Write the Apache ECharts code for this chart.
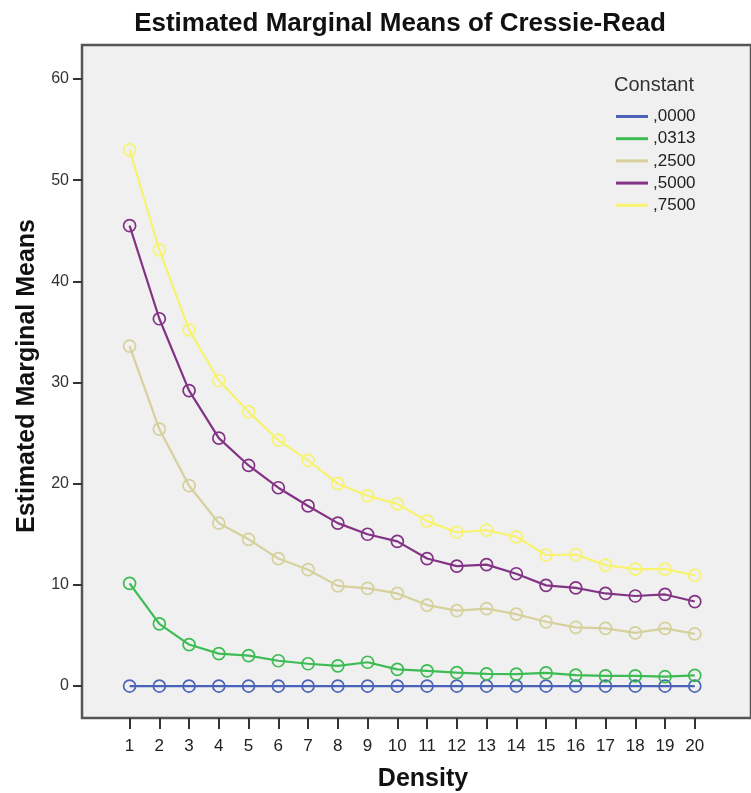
<!DOCTYPE html>
<html>
<head>
<meta charset="utf-8">
<script src="https://cdn.jsdelivr.net/npm/echarts@6/dist/echarts.min.js"></script>
<style>
html,body{margin:0;padding:0;background:#fff;}
#chart{width:751px;height:793px;}
</style>
</head>
<body>
<div id="chart"></div>
<script>
const density = [1,2,3,4,5,6,7,8,9,10,11,12,13,14,15,16,17,18,19,20];
const yTicks = [0,10,20,30,40,50,60];
const seriesNames = [',0000', ',0313', ',2500', ',5000', ',7500'];
const c0000 = [0,0,0,0,0,0,0,0,0,0,0,0,0,0,0,0,0,0,0,0];
const c0313 = [10.15,6.15,4.1,3.2,3.0,2.5,2.2,2.0,2.35,1.65,1.5,1.32,1.2,1.18,1.3,1.08,1.0,1.0,0.92,1.05];
const c2500 = [33.6,25.4,19.8,16.1,14.5,12.6,11.5,9.9,9.65,9.15,8.0,7.45,7.65,7.1,6.35,5.8,5.7,5.25,5.7,5.15];
const c5000 = [45.5,36.3,29.2,24.5,21.8,19.6,17.8,16.1,15.0,14.3,12.6,11.85,12.0,11.1,9.95,9.7,9.15,8.9,9.05,8.35];
const c7500 = [53.0,43.1,35.2,30.2,27.1,24.3,22.3,20.0,18.8,18.0,16.3,15.2,15.4,14.75,12.95,13.0,11.95,11.55,11.55,10.95];
const seriesValues = [c0000, c0313, c2500, c5000, c7500];
const colors = ['#4a63b8', '#3cbc52', '#d6d19c', '#833385', '#f7f36e'];

const chart = echarts.init(document.getElementById('chart'), null, {renderer: 'canvas'});
const font = 'Liberation Sans, Arial, sans-serif';

const series = seriesNames.map((name, i) => ({
  name: name,
  type: 'line',
  data: density.map((d, j) => [d, seriesValues[i][j]]),
  symbol: 'circle',
  symbolSize: 12,
  z: 2 + i,
  lineStyle: {color: colors[i], width: 2.2},
  itemStyle: {color: 'rgba(0,0,0,0)', borderColor: colors[i], borderWidth: 1.7},
  emphasis: {disabled: true},
  animation: false
}));

chart.setOption({
  backgroundColor: '#ffffff',
  animation: false,
  grid: {
    left: 82, top: 45, right: -20, bottom: 75,
    show: true, backgroundColor: '#f0f0f0', borderColor: '#555', borderWidth: 2.5
  },
  legend: {
    orient: 'vertical',
    left: 616, top: 108,
    padding: 0,
    itemWidth: 32, itemHeight: 3, itemGap: 5.2,
    icon: 'rect',
    data: seriesNames.map((n, i) => ({name: n, icon: 'rect', itemStyle: {color: colors[i], borderWidth: 0}})),
    textStyle: {fontFamily: font, fontSize: 17, color: '#222', lineHeight: 17},
    selectedMode: false
  },
  xAxis: {
    type: 'value',
    min: -0.6, max: 21.89,
    axisLine: {show: false, onZero: false},
    splitLine: {show: false},
    axisTick: {show: true, length: 11, customValues: density, lineStyle: {color: '#333', width: 2}},
    axisLabel: {customValues: density, margin: 20, fontFamily: font, fontSize: 17, color: '#222'}
  },
  yAxis: {
    type: 'value',
    min: -3.16, max: 63.36,
    axisLine: {show: false, onZero: false},
    splitLine: {show: false},
    axisTick: {show: true, length: 9, customValues: yTicks, lineStyle: {color: '#333', width: 2}},
    axisLabel: {customValues: yTicks, margin: 13, fontFamily: font, fontSize: 16, color: '#333'}
  },
  graphic: [
    {type: 'text', x: 400, y: 24,
      style: {text: 'Estimated Marginal Means of Cressie-Read', fontFamily: font, fontSize: 26, fontWeight: 'bold', fill: '#111', align: 'center', verticalAlign: 'middle'}},
    {type: 'text', x: 27.5, y: 376, rotation: Math.PI / 2,
      style: {text: 'Estimated Marginal Means', fontFamily: font, fontSize: 25, fontWeight: 'bold', fill: '#111', align: 'center', verticalAlign: 'middle'}},
    {type: 'text', x: 423, y: 779,
      style: {text: 'Density', fontFamily: font, fontSize: 25, fontWeight: 'bold', fill: '#111', align: 'center', verticalAlign: 'middle'}},
    {type: 'text', x: 614, y: 85,
      style: {text: 'Constant', fontFamily: font, fontSize: 20, fill: '#333', align: 'left', verticalAlign: 'middle'}}
  ],
  series: series
});
</script>
</body>
</html>
